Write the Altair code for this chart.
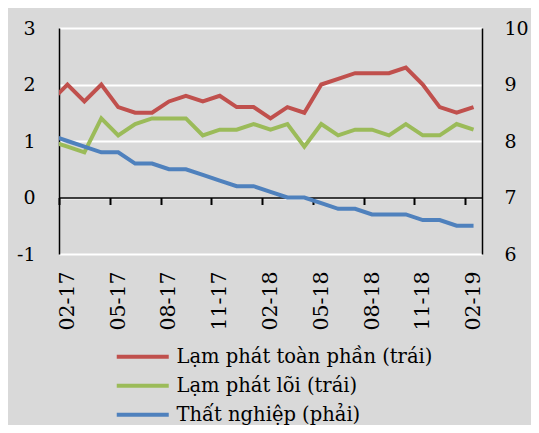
import json
import altair as alt
import pandas as pd

months = ["01-17", "02-17", "03-17", "04-17", "05-17", "06-17", "07-17", "08-17", "09-17",
          "10-17", "11-17", "12-17", "01-18", "02-18", "03-18", "04-18", "05-18", "06-18",
          "07-18", "08-18", "09-18", "10-18", "11-18", "12-18", "01-19", "02-19"]
headline = [1.7, 2.0, 1.7, 2.0, 1.6, 1.5, 1.5, 1.7, 1.8, 1.7, 1.8, 1.6, 1.6, 1.4, 1.6, 1.5,
            2.0, 2.1, 2.2, 2.2, 2.2, 2.3, 2.0, 1.6, 1.5, 1.6]
core = [1.0, 0.9, 0.8, 1.4, 1.1, 1.3, 1.4, 1.4, 1.4, 1.1, 1.2, 1.2, 1.3, 1.2, 1.3, 0.9,
        1.3, 1.1, 1.2, 1.2, 1.1, 1.3, 1.1, 1.1, 1.3, 1.2]
unemployment = [8.1, 8.0, 7.9, 7.8, 7.8, 7.6, 7.6, 7.5, 7.5, 7.4, 7.3, 7.2, 7.2, 7.1, 7.0, 7.0,
                6.9, 6.8, 6.8, 6.7, 6.7, 6.7, 6.6, 6.6, 6.5, 6.5]

names = ["Lạm phát toàn phần (trái)", "Lạm phát lõi (trái)", "Thất nghiệp (phải)"]
colors = ["#C0504D", "#9BBB59", "#4F81BD"]
tick_labels = ["02-17", "05-17", "08-17", "11-17", "02-18", "05-18", "08-18", "11-18", "02-19"]
tick_values = [0, 3, 6, 9, 12, 15, 18, 21, 24]
label_values = [v + 0.5 for v in tick_values]

rows = []
for i, m in enumerate(months):
    pos = i - 0.5
    for name, series in zip(names, [headline, core, unemployment]):
        rows.append({"month": m, "pos": pos, "series": name, "value": series[i]})
df = pd.DataFrame(rows)

FONT = "DejaVu Serif"
xscale = alt.Scale(domain=[0, 25], nice=False, zero=False)

color = alt.Color(
    "series:N",
    scale=alt.Scale(domain=names, range=colors),
    legend=alt.Legend(
        title=None, orient="none", legendX=53, legendY=319, direction="vertical",
        symbolType="M-1,0H9.4", symbolSize=100, symbolStrokeWidth=4,
        labelFont=FONT, labelFontSize=19.5, labelColor="black", labelLimit=400,
        labelOffset=45, rowPadding=8,
    ),
)

left = alt.Chart(df).transform_filter(
    alt.FieldOneOfPredicate(field="series", oneOf=names[:2])
).mark_line(strokeWidth=4, clip=True).encode(
    x=alt.X("pos:Q", scale=xscale, title="",
            axis=alt.Axis(orient="bottom", values=label_values,
                          labelExpr=json.dumps(tick_labels) + "[floor(datum.value/3)]",
                          labelAngle=-90, domain=False, ticks=False, tickSize=0, grid=False,
                          labelFont=FONT, labelFontSize=20.5, labelColor="black",
                          labelPadding=17, labelFlush=False, labelOverlap=False)),
    y=alt.Y("value:Q", scale=alt.Scale(domain=[-1, 3], nice=False, zero=False), title="",
            axis=alt.Axis(orient="left", values=[-1, 0, 1, 2, 3], grid=True,
                          labelExpr="toString(datum.value)",
                          gridColor="white", gridWidth=2, domainColor="black", domainWidth=1.5,
                          ticks=False, tickSize=0, labelFont=FONT, labelFontSize=19,
                          labelColor="black", labelPadding=24)),
    color=color,
)

right = alt.Chart(df).transform_filter(
    alt.datum.series == names[2]
).mark_line(strokeWidth=4, clip=True).encode(
    x=alt.X("pos:Q", scale=xscale, title="",
            axis=alt.Axis(orient="bottom", values=tick_values, labels=False, domain=True,
                          domainColor="black", domainWidth=1.5, ticks=True, tickSize=7,
                          tickWidth=2, tickColor="black", grid=False, offset=-56.5)),
    y=alt.Y("value:Q", scale=alt.Scale(domain=[6, 10], nice=False, zero=False), title="",
            axis=alt.Axis(orient="right", values=[6, 7, 8, 9, 10], grid=False,
                          domainColor="black", domainWidth=1.5, ticks=False, tickSize=0,
                          labelFont=FONT, labelFontSize=19, labelColor="black",
                          labelPadding=22)),
    color=color,
)

chart = alt.layer(left, right).resolve_scale(y="independent").resolve_axis(
    x="independent", y="independent"
).properties(
    width=423, height=226,
    autosize=alt.AutoSizeParams(type="none"),
    padding={"left": 51, "top": 20, "right": 49, "bottom": 171},
    background="#D9D9D9",
).configure_view(strokeWidth=0)

chart.save("out.html", embed_options={"renderer": "svg", "actions": False})
